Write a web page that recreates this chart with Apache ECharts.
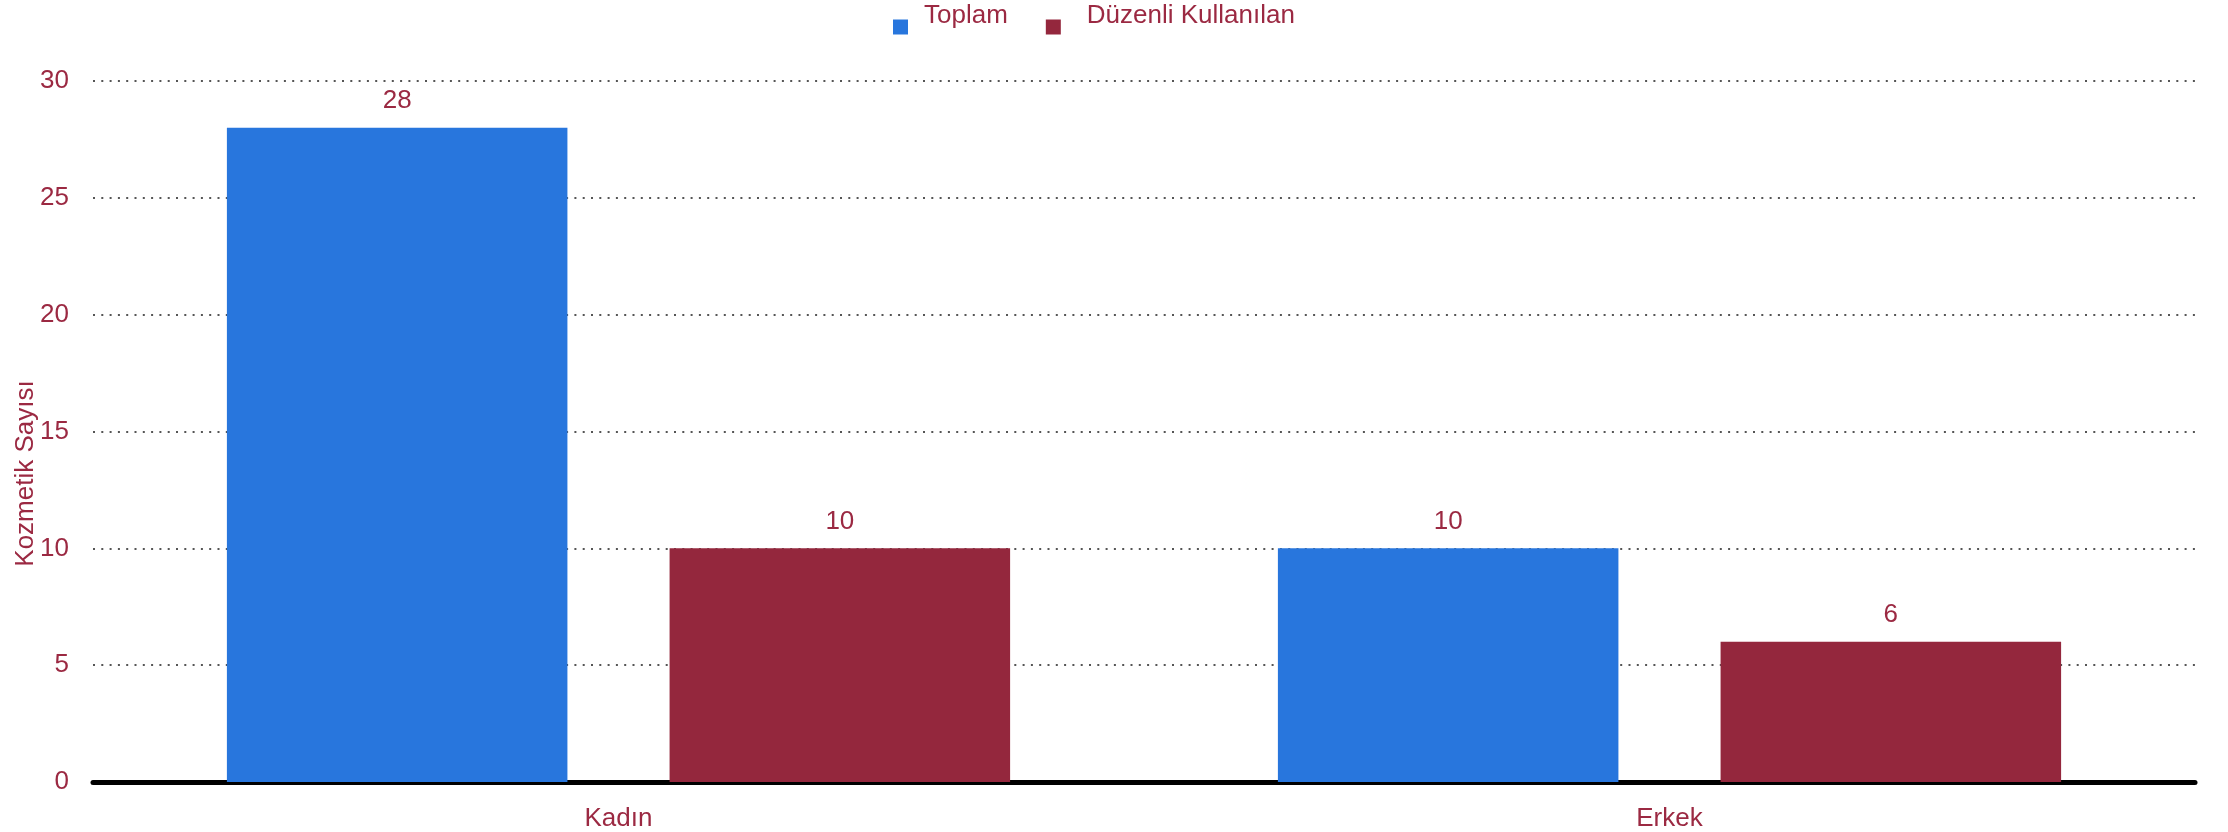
<!DOCTYPE html>
<html>
<head>
<meta charset="utf-8">
<script src="https://cdn.jsdelivr.net/npm/echarts@6/dist/echarts.min.js"></script>
<style>
  html, body { margin: 0; padding: 0; background: #fff; }
  #chart { width: 2228px; height: 832px; }
</style>
</head>
<body>
<div id="chart"></div>
<script>
const categories = ['Kadın', 'Erkek']
const seriesNames = ['Toplam', 'Düzenli Kullanılan']
const toplam = [28, 10]
const duzenli = [10, 6]
const yTicks = { min: 0, max: 30, interval: 5 }

const textColor = '#9b2942'
const colors = ['#2876dd', '#94273d']
const font = 'Arial, "Liberation Sans", sans-serif'

const myChart = echarts.init(document.getElementById('chart'))

const option = {
    animation: false,
    backgroundColor: '#fff',
    textStyle: { fontFamily: font },
    legend: {
        top: -2,
        left: 888,
        itemWidth: 15,
        itemHeight: 15,
        itemGap: 38,
        icon: 'rect',
        data: seriesNames,
        // text sits higher than the square in the original
        formatter: name => name === seriesNames[0] ? '{a|' + name + '}' : '{b|' + name + '}',
        textStyle: {
            color: textColor,
            fontSize: 26,
            fontFamily: font,
            rich: {
                a: { color: textColor, fontSize: 26, fontFamily: font, padding: [0, 0, 22, 11] },
                b: { color: textColor, fontSize: 26, fontFamily: font, padding: [0, 0, 22, 21] }
            }
        }
    },
    grid: {
        left: 93,
        right: 33,
        top: 81,
        bottom: 50,
        outerBoundsMode: 'none'
    },
    xAxis: {
        type: 'category',
        data: categories,
        axisLine: { lineStyle: { color: '#000', width: 5 } },
        axisTick: { show: false },
        axisLabel: { color: textColor, fontSize: 26, margin: 24 }
    },
    yAxis: {
        type: 'value',
        min: yTicks.min,
        max: yTicks.max,
        interval: yTicks.interval,
        name: 'Kozmetik Sayısı',
        nameLocation: 'middle',
        nameGap: 54,
        nameMoveOverlap: false,
        nameTextStyle: { color: textColor, fontSize: 26, padding: [0, 84, 0, 0] },
        axisLine: { show: false },
        axisTick: { show: false },
        axisLabel: { color: textColor, fontSize: 26, margin: 24 },
        splitLine: {
            lineStyle: { color: '#555', width: 2, type: [2, 6.3] }
        }
    },
    series: [toplam, duzenli].map((vals, idx) => {
        return {
            name: seriesNames[idx],
            type: 'bar',
            barWidth: '32.4%',
            barGap: '30%',
            itemStyle: { color: colors[idx] },
            label: {
                show: true,
                position: 'top',
                distance: 14,
                color: textColor,
                fontSize: 26
            },
            data: vals
        }
    })
}

myChart.setOption(option)
</script>
</body>
</html>
